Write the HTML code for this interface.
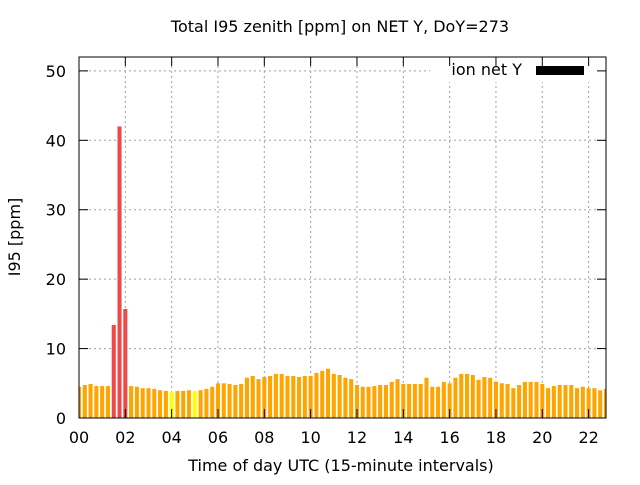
<!DOCTYPE html>
<html><head><meta charset="utf-8"><style>
body{margin:0;background:#fff;width:640px;height:480px;overflow:hidden}
svg text{font-family:"DejaVu Sans","Liberation Sans",sans-serif;font-size:16px;fill:#000}
</style></head><body>
<svg id="c" width="640" height="480" xmlns="http://www.w3.org/2000/svg"></svg>
<script>
const values=[4.5,4.75,4.9,4.6,4.6,4.6,13.4,42,15.7,4.6,4.5,4.3,4.3,4.2,4.0,3.9,3.75,3.9,3.9,4.0,3.9,4.0,4.2,4.5,5.0,5.0,4.9,4.75,4.9,5.8,6.05,5.6,5.9,6.05,6.35,6.35,6.05,6.05,5.9,6.05,6.05,6.5,6.8,7.1,6.35,6.2,5.8,5.6,4.75,4.5,4.5,4.6,4.75,4.75,5.2,5.6,4.9,4.9,4.9,4.9,5.8,4.5,4.5,5.2,5.0,5.8,6.35,6.35,6.2,5.5,5.9,5.8,5.2,5.0,4.9,4.3,4.75,5.2,5.2,5.2,4.9,4.3,4.6,4.75,4.75,4.75,4.3,4.5,4.3,4.3,4.0,4.2];
const colorFlags=['o','o','o','o','o','o','r','r','r','o','o','o','o','o','o','o','y','o','o','o','y'];
const yTicks=[0,10,20,30,40,50];
const xTicks=['00','02','04','06','08','10','12','14','16','18','20','22'];
const X0=79,X1=606,Y0=418,Y1=57,xmax=22.75,ymax=52;
const sx=h=>X0+(X1-X0)*h/xmax, sy=v=>Y0-(Y0-Y1)*v/ymax;
const svg=document.getElementById('c');const NS='http://www.w3.org/2000/svg';
function el(t,a,p){const e=document.createElementNS(NS,t);for(const k in a)e.setAttribute(k,a[k]);(p||svg).appendChild(e);return e;}
yTicks.forEach(v=>{if(v>0){const g=el('line',{x1:X0,x2:X1,y1:sy(v),y2:sy(v),stroke:'#a0a0a0','stroke-dasharray':'2,3'});

}});
xTicks.forEach((t,i)=>{if(i>0){const g=el('line',{x1:sx(i*2),x2:sx(i*2),y1:Y0,y2:Y1,stroke:'#a0a0a0','stroke-dasharray':'2,3'});

}});
const bw=(X1-X0)/xmax*0.25*0.7;
values.forEach((v,i)=>{const h=i*0.25;const f=colorFlags[i]||'o';
const c=f==='r'?'#f04848':(f==='y'?'#ffff00':'#ffa500');
let x=sx(h)-bw/2,w=bw;if(x<X0){w-=X0-x;x=X0;}if(x+w>X1)w=X1-x;
const r=el('rect',{x:x,y:sy(v),width:w,height:Y0-sy(v),fill:c});

});
const lb=el('rect',{x:430,y:58,width:175,height:24,fill:'#fff'});


const lt=el('text',{x:522,y:75,'text-anchor':'end'});lt.textContent='ion net Y';


const lk=el('rect',{x:536,y:66,width:48,height:9,fill:'#000'});


const fr=el('rect',{x:X0,y:Y1,width:X1-X0,height:Y0-Y1,fill:'none',stroke:'#000','stroke-width':1});


yTicks.forEach(v=>{const y=sy(v);el('line',{x1:X0,x2:X0+9,y1:y,y2:y,stroke:'#000'});el('line',{x1:X1,x2:X1-9,y1:y,y2:y,stroke:'#000'});
const t=el('text',{x:66,y:y+6,'text-anchor':'end'});t.textContent=v;

});
xTicks.forEach((s,i)=>{const x=sx(i*2);el('line',{x1:x,x2:x,y1:Y0,y2:Y0-9,stroke:'#000'});el('line',{x1:x,x2:x,y1:Y1,y2:Y1+9,stroke:'#000'});
const t=el('text',{x:x,y:443,'text-anchor':'middle'});t.textContent=s;

});
const ti=el('text',{x:340,y:32,'text-anchor':'middle'});ti.textContent='Total I95 zenith [ppm] on NET Y, DoY=273';


const xt=el('text',{x:341,y:471,'text-anchor':'middle'});xt.textContent='Time of day UTC (15-minute intervals)';


const yt=el('text',{x:0,y:0,'text-anchor':'middle',transform:'translate(20,237) rotate(-90)'});yt.textContent='I95 [ppm]';


</script>
</body></html>
